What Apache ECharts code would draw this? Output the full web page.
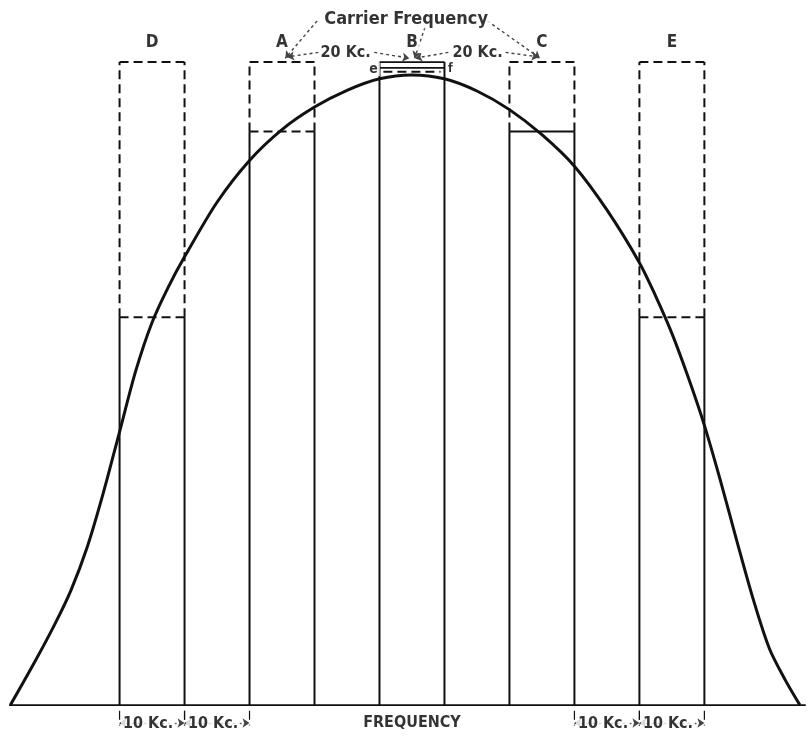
<!DOCTYPE html>
<html>
<head>
<meta charset="utf-8">
<script src="https://cdn.jsdelivr.net/npm/echarts@6/dist/echarts.min.js"></script>
<style>
  html, body { margin: 0; padding: 0; background: #fff; }
  #main { width: 809px; height: 742px; }
</style>
</head>
<body>
<div id="main"></div>
<script>
// frequency offset from carrier (kc) and relative response of the tuned circuit
var curveKc  = [-61.8, -58, -55, -52.5, -50, -47.5, -45, -42.5, -40, -37.5, -35, -30, -25, -20, -15, -10, -5, 0,
                5, 10, 15, 20, 25, 30, 35, 37.5, 40, 42.5, 45, 47.5, 50, 52.5, 55, 57.5, 59.7];
var curveVal = [0, 6.8, 12.5, 17.8, 24.5, 33, 42.5, 52, 59.5, 65, 69.7, 78.2, 84.7, 89.5, 93, 95.6, 97.4, 98,
                97.4, 95.5, 92.6, 88.7, 83.8, 77, 68.8, 63.6, 57.8, 51, 43.5, 34.8, 25.5, 16.5, 8.8, 3.8, 0];

// stations
var bandNames   = ['D', 'A', 'B', 'C', 'E'];
var bandCenters = [-40, -20, 0, 20, 40];
var bandWidth   = 10;
var bandSolid   = [60.3, 89.2, 100, 89.2, 60.3];
var bandFull    = 100;
var efLevel     = 98.5;
var boxBottom   = 99.1;

// bottom spacing marks
var spanFrom   = [-45, -35, 25, 35];
var spanTo     = [-35, -25, 35, 45];
var spanLabels = ['10 Kc.', '10 Kc.', '10 Kc.', '10 Kc.'];

var INK = '#111';
var FONT = '"DejaVu Sans Condensed", "DejaVu Sans", sans-serif';
var DASH = [9, 5];

function seg(a, b, dashed, w) {
  return {
    type: 'line', data: [a, b], symbol: 'none', silent: true, animation: false,
    lineStyle: {color: INK, width: w || 2, type: dashed ? DASH : 'solid'}
  };
}

function txt(x, y, s, size) {
  return {
    name: s, value: [x, y],
    label: {fontSize: size || 16}
  };
}

var series = [];

// baseline
var base = seg([-62, 0], [60.6, 0], false, 1.8);
series.push(base);

// resonance curve
var pts = [];
for (var i = 0; i < curveKc.length; i++) pts.push([curveKc[i], curveVal[i]]);
series.push({
  type: 'line', data: pts, smooth: 0.3, symbol: 'none', silent: true, animation: false,
  lineStyle: {color: INK, width: 3}
});

// bands
for (var k = 0; k < bandNames.length; k++) {
  var l = bandCenters[k] - bandWidth / 2;
  var r = bandCenters[k] + bandWidth / 2;
  var h = bandSolid[k];
  series.push(seg([l, 0], [l, h]));
  series.push(seg([r, 0], [r, h]));
  if (bandNames[k] == 'B') {
    // little box on top of B, and e-f
    series.push(seg([l, bandFull], [r, bandFull], false, 1.8));
    series.push(seg([l, boxBottom], [r, boxBottom], false, 1.8));
    series.push(seg([l + 0.6, efLevel], [r - 0.6, efLevel], true, 2));
  } else {
    series.push(seg([l, h], [r, h], bandNames[k] != 'C', 2));
    series.push(seg([l, h], [l, bandFull], true));
    series.push(seg([r, h], [r, bandFull], true));
    series.push(seg([l, bandFull], [r, bandFull], true));
  }
}

// small ticks under baseline
for (var t = 0; t < spanFrom.length; t++) {
  series.push(seg([spanFrom[t], -0.9], [spanFrom[t], -3.2], true, 1.2));
  series.push(seg([spanTo[t], -0.9], [spanTo[t], -3.2], true, 1.2));
}

// arrows
function arrow(a, b, curv) {
  return [
    {coord: a, symbol: 'none', lineStyle: {curveness: curv || 0}},
    {coord: b, symbol: 'arrow', lineStyle: {curveness: curv || 0}}
  ];
}
var arrows = [];
var topY = bandFull + 0.6;
arrows.push(arrow([-14.6, 106.4], [bandCenters[1] + 0.5, topY], 0.45));
arrows.push(arrow([11.6, 106.4], [bandCenters[3] - 0.3, topY], -0.45));
arrows.push(arrow([2, 105.4], [bandCenters[2] + 0.4, topY], 0));
arrows.push(arrow([-14.4, 101.5], [bandCenters[1] + 0.8, topY + 0.2], 0));
arrows.push(arrow([-5.8, 101.5], [bandCenters[2] - 0.4, topY], 0));
arrows.push(arrow([5.6, 101.5], [bandCenters[2] + 0.5, topY], 0));
arrows.push(arrow([14.4, 101.5], [bandCenters[3] - 0.5, topY + 0.2], 0));
for (var t = 0; t < spanFrom.length; t++) {
  arrows.push([
    {coord: [spanFrom[t], -2.8], symbol: 'arrow', lineStyle: {curveness: 0}},
    {coord: [spanTo[t], -2.8], symbol: 'arrow', lineStyle: {curveness: 0}}
  ]);
}
base.markLine = {
  silent: true, animation: false, symbolSize: 7,
  label: {show: false},
  lineStyle: {color: '#444', width: 1.4, type: [3, 3]},
  data: arrows
};

// texts
var texts = [];
for (var k = 0; k < bandNames.length; k++) {
  texts.push(txt(bandCenters[k], 103.1, bandNames[k], 17));
}
texts.push(txt(-0.9, 106.6, 'Carrier Frequency', 18));
texts.push(txt(-10.2, 101.5, '20 Kc.', 16));
texts.push(txt(10.1, 101.5, '20 Kc.', 16));
texts.push(txt(-5.9, 98.9, 'e', 14));
texts.push(txt(5.9, 98.9, 'f', 12));
texts.push(txt(0, -2.7, 'FREQUENCY', 16));
for (var t = 0; t < spanFrom.length; t++) {
  texts.push(txt((spanFrom[t] + spanTo[t]) / 2 - 0.6, -3.0, spanLabels[t], 16));
}
series.push({
  type: 'scatter', data: texts, symbolSize: 1, silent: true, animation: false, clip: false,
  itemStyle: {color: 'rgba(0,0,0,0)'},
  label: {
    show: true, position: 'inside', formatter: '{b}', color: '#000', fontFamily: FONT,
    fontWeight: 'bold', backgroundColor: '#fff', padding: [0, 2]
  },
  z: 10
});

var myChart = echarts.init(document.getElementById('main'), null, {renderer: 'canvas'});
myChart.setOption({
  backgroundColor: '#fff',
  animation: false,
  grid: {left: 0, right: 0, top: 0, bottom: 0},
  xAxis: {type: 'value', min: -63.4, max: 61.1, show: false},
  yAxis: {type: 'value', min: -5.75, max: 109.65, show: false},
  series: series
});
</script>
</body>
</html>
